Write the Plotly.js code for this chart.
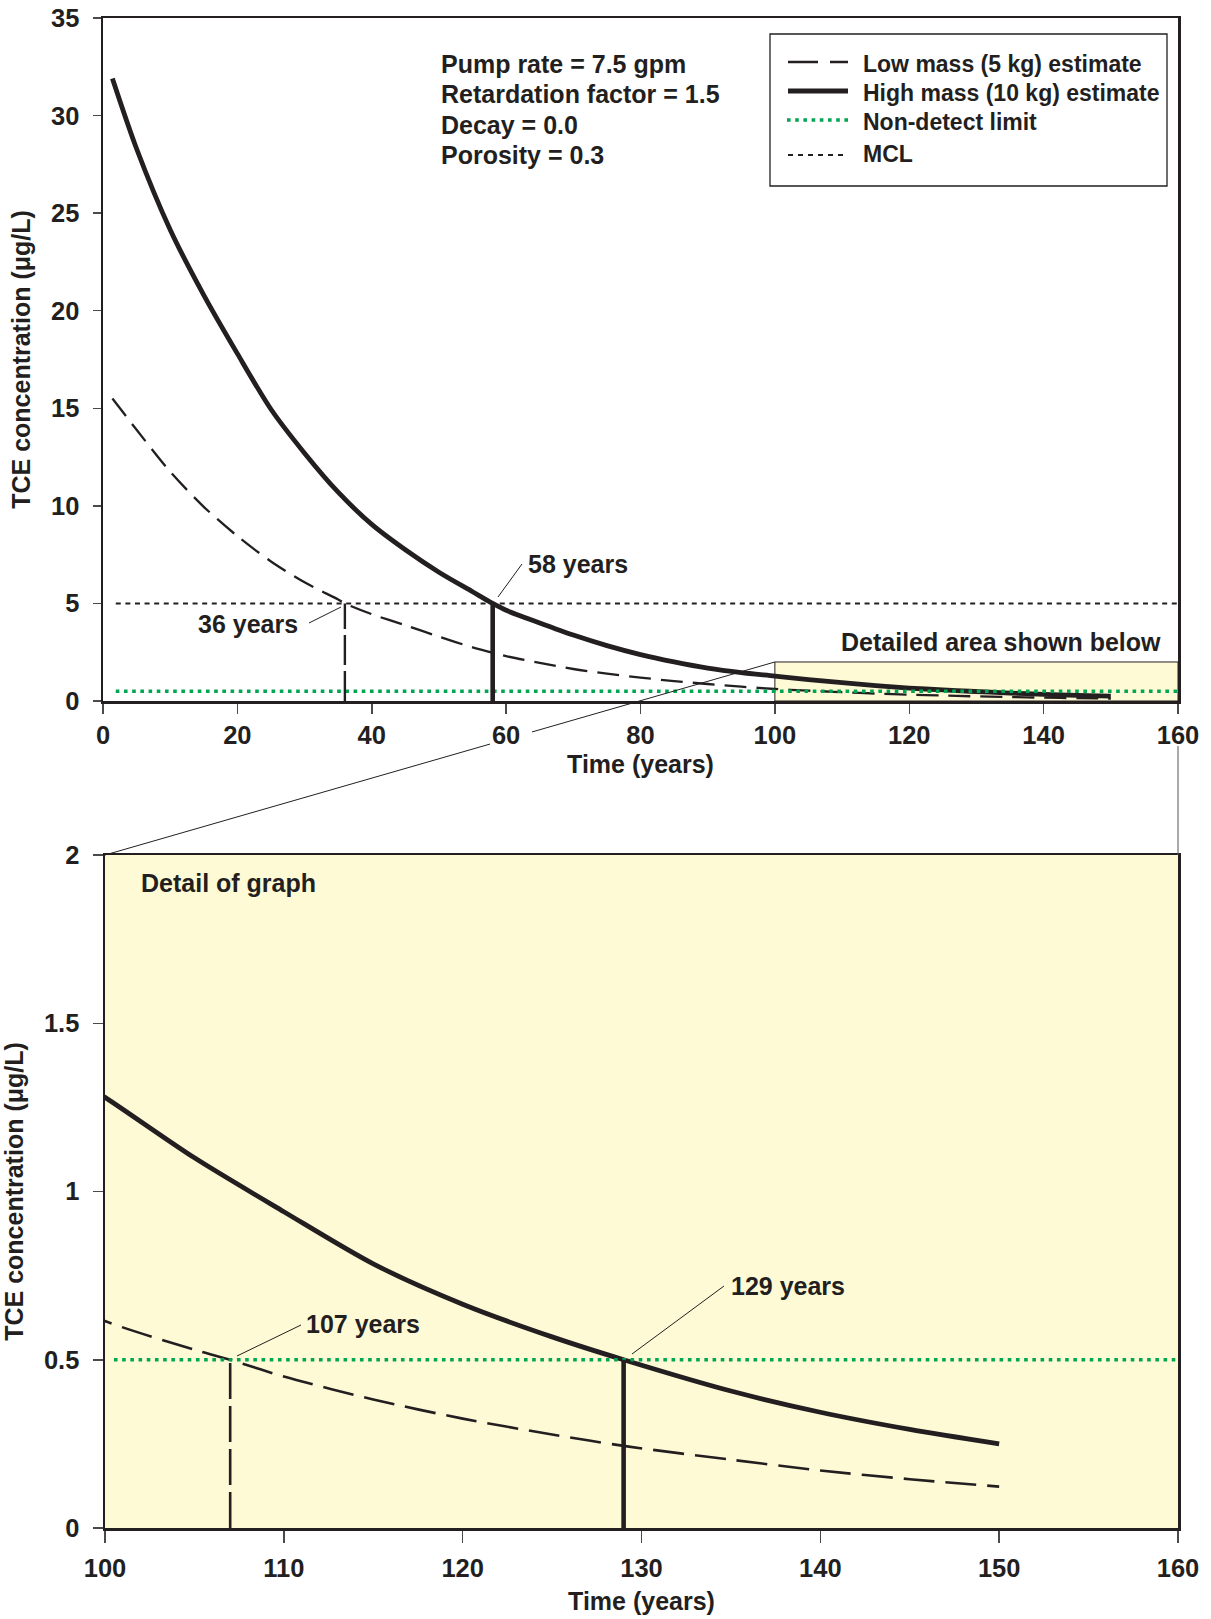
<!DOCTYPE html>
<html>
<head>
<meta charset="utf-8">
<script src="https://cdn.plot.ly/plotly-3.0.1.min.js"></script>
<style>
  html, body { margin: 0; padding: 0; background: #ffffff; }
  #chart { width: 1211px; height: 1619px; }
</style>
</head>
<body>
<div id="chart"></div>
<script>
// ---------------- data ----------------
const highTime = [1.4, 5, 10, 15, 20, 25, 30, 35, 40, 45, 50, 55, 58, 60, 65, 70, 75, 80, 85, 90, 95, 100, 105, 110, 115, 120, 125, 129, 135, 140, 145, 150];
const highConc = [31.9, 28.3, 24.15, 20.8, 17.8, 14.95, 12.7, 10.7, 9.05, 7.75, 6.6, 5.6, 5.0, 4.65, 4.0, 3.38, 2.84, 2.38, 2.0, 1.68, 1.45, 1.28, 1.10, 0.94, 0.785, 0.665, 0.568, 0.50, 0.407, 0.344, 0.293, 0.25];
const lowTime = [1.4, 5, 10, 15, 20, 25, 30, 35, 36, 40, 45, 50, 55, 60, 65, 70, 75, 80, 85, 90, 95, 100, 105, 107, 110, 115, 120, 125, 129, 135, 140, 145, 150];
const lowConc = [15.5, 13.9, 11.75, 9.95, 8.45, 7.15, 6.08, 5.2, 5.0, 4.45, 3.88, 3.3, 2.75, 2.3, 1.95, 1.64, 1.40, 1.20, 1.02, 0.87, 0.735, 0.615, 0.53, 0.50, 0.45, 0.382, 0.325, 0.278, 0.244, 0.203, 0.171, 0.145, 0.123];

const mclLevel = 5;            // MCL (ug/L)
const nonDetectLevel = 0.5;    // non-detect limit (ug/L)
const mclCrossYears = [36, 58];        // low, high reach MCL
const nonDetectCrossYears = [107, 129];// low, high reach non-detect
const topLineSpan = [1.9, 160];        // extent of reference lines, top graph
const bottomLineSpan = [100.5, 160];   // extent of reference line, detail graph
const detailBox = {x: [100, 160], y: [0, 2]};

const topXTicks = [0, 20, 40, 60, 80, 100, 120, 140, 160];
const topYTicks = [0, 5, 10, 15, 20, 25, 30, 35];
const botXTicks = [100, 110, 120, 130, 140, 150, 160];
const botYTicks = [0, 0.5, 1, 1.5, 2];
const botYTickText = ['0', '0.5', '1', '1.5', '2'];

const legendLabels = ['Low mass (5 kg) estimate', 'High mass (10 kg) estimate', 'Non-detect limit', 'MCL'];
const paramLines = ['Pump rate = 7.5 gpm', 'Retardation factor = 1.5', 'Decay = 0.0', 'Porosity = 0.3'];

// ---------------- styling ----------------
const INK = '#231F20';
const GREEN = '#00A651';
const YELLOW = '#FFFAD6';
const FAM = 'Liberation Sans, Arial, Helvetica, sans-serif';
const f = (size, color) => ({family: FAM, size: size, color: color || INK, weight: 'bold'});

const W = 1211, H = 1619;
const M = {l: 103, r: 33, t: 18, b: 91};
const pw = W - M.l - M.r, ph = H - M.t - M.b;
const px = (x) => (x - M.l) / pw;
const py = (y) => (H - M.b - y) / ph;

const topYDom = [py(701), 1];
const botYDom = [0, py(855)];
const botXDom = [px(105), 1];

const lowStyleTop = {color: INK, width: 2.3, dash: '22px,10px', shape: 'spline', smoothing: 0.8};
const lowStyleBot = {color: INK, width: 2.6, dash: '31px,11px', shape: 'spline', smoothing: 0.8};
const highStyle = {color: INK, width: 4.8, shape: 'spline', smoothing: 0.8};
const ndStyle = {color: GREEN, width: 3.6, dash: '3.6px,4.6px'};
const mclStyle = {color: INK, width: 2, dash: '5px,4.6px'};

const traces = [
  // top graph
  {x: topLineSpan, y: [mclLevel, mclLevel], xaxis: 'x', yaxis: 'y', mode: 'lines', line: mclStyle, name: 'MCL'},
  {x: lowTime, y: lowConc, xaxis: 'x', yaxis: 'y', mode: 'lines', line: lowStyleTop, name: legendLabels[0]},
  {x: highTime, y: highConc, xaxis: 'x', yaxis: 'y', mode: 'lines', line: highStyle, name: legendLabels[1]},
  {x: topLineSpan, y: [nonDetectLevel, nonDetectLevel], xaxis: 'x', yaxis: 'y', mode: 'lines', line: ndStyle, name: legendLabels[2]},
  {x: [mclCrossYears[0], mclCrossYears[0]], y: [0, mclLevel], xaxis: 'x', yaxis: 'y', mode: 'lines', line: {color: INK, width: 2.4, dash: '30px,6px'}},
  {x: [mclCrossYears[1], mclCrossYears[1]], y: [0, mclLevel], xaxis: 'x', yaxis: 'y', mode: 'lines', line: {color: INK, width: 4.6}},
  // detail graph
  {x: lowTime, y: lowConc, xaxis: 'x2', yaxis: 'y2', mode: 'lines', line: lowStyleBot, name: legendLabels[0]},
  {x: highTime, y: highConc, xaxis: 'x2', yaxis: 'y2', mode: 'lines', line: highStyle, name: legendLabels[1]},
  {x: bottomLineSpan, y: [nonDetectLevel, nonDetectLevel], xaxis: 'x2', yaxis: 'y2', mode: 'lines', line: ndStyle, name: legendLabels[2]},
  {x: [nonDetectCrossYears[0], nonDetectCrossYears[0]], y: [0, nonDetectLevel], xaxis: 'x2', yaxis: 'y2', mode: 'lines', line: {color: INK, width: 2.6, dash: '36px,7px'}},
  {x: [nonDetectCrossYears[1], nonDetectCrossYears[1]], y: [0, nonDetectLevel], xaxis: 'x2', yaxis: 'y2', mode: 'lines', line: {color: INK, width: 4.6}}
].map(t => Object.assign({showlegend: false, hoverinfo: 'skip'}, t));

const axisCommon = {
  showgrid: false, zeroline: false, showline: true, mirror: true,
  linecolor: INK, linewidth: 2.5, ticks: 'outside', tickcolor: '#4a4a4a', tickwidth: 1.5,
  tickfont: f(25.5), fixedrange: true
};

// paper position of the detail box corner in the top graph
const cornerX = px(M.l) + (detailBox.x[0] / 160) * 1;
const cornerY = topYDom[0] + (detailBox.y[1] / 35) * (topYDom[1] - topYDom[0]);
const botTL = {x: botXDom[0], y: botYDom[1]};
const slope = (botTL.y - cornerY) / (botTL.x - cornerX);
const gapA = px(532), gapB = px(490);

const shapes = [
  // yellow background of the detail graph
  {type: 'rect', xref: 'x2 domain', yref: 'y2 domain', x0: 0, x1: 1, y0: 0, y1: 1, fillcolor: YELLOW, line: {width: 0}, layer: 'below'},
  // detail area in top graph
  {type: 'rect', xref: 'x', yref: 'y', x0: detailBox.x[0], x1: detailBox.x[1], y0: detailBox.y[0], y1: detailBox.y[1], fillcolor: YELLOW, line: {color: INK, width: 1}, layer: 'below'},
  // connector lines
  {type: 'line', xref: 'paper', yref: 'paper', x0: cornerX, y0: cornerY, x1: gapA, y1: cornerY + slope * (gapA - cornerX), line: {color: INK, width: 1}},
  {type: 'line', xref: 'paper', yref: 'paper', x0: gapB, y0: cornerY + slope * (gapB - cornerX), x1: botTL.x, y1: botTL.y, line: {color: INK, width: 1}},
  {type: 'line', xref: 'paper', yref: 'paper', x0: 1, y0: py(746), x1: 1, y1: py(855), line: {color: '#555', width: 1}},
  // leader lines
  {type: 'line', xref: 'paper', yref: 'paper', x0: px(498), y0: py(597), x1: px(522), y1: py(564), line: {color: INK, width: 1}},
  {type: 'line', xref: 'paper', yref: 'paper', x0: px(309), y0: py(623), x1: px(341), y1: py(607), line: {color: INK, width: 1}},
  {type: 'line', xref: 'paper', yref: 'paper', x0: px(237), y0: py(1356), x1: px(301), y1: py(1325), line: {color: INK, width: 1}},
  {type: 'line', xref: 'paper', yref: 'paper', x0: px(632), y0: py(1354), x1: px(724), y1: py(1286), line: {color: INK, width: 1}},
  // legend box and samples
  {type: 'rect', xref: 'paper', yref: 'paper', x0: px(770), x1: px(1167), y0: py(186), y1: py(34), line: {color: INK, width: 1.3}, fillcolor: 'rgba(0,0,0,0)'},
  {type: 'line', xref: 'paper', yref: 'paper', x0: px(788), x1: px(848), y0: py(62), y1: py(62), line: {color: INK, width: 2.4, dash: '30px,12px'}},
  {type: 'line', xref: 'paper', yref: 'paper', x0: px(788), x1: px(848), y0: py(91), y1: py(91), line: {color: INK, width: 5}},
  {type: 'line', xref: 'paper', yref: 'paper', x0: px(787), x1: px(850), y0: py(120), y1: py(120), line: {color: GREEN, width: 3.6, dash: '3.6px,4.6px'}},
  {type: 'line', xref: 'paper', yref: 'paper', x0: px(788), x1: px(848), y0: py(155), y1: py(155), line: {color: INK, width: 2, dash: '5px,5px'}}
];

const ann = (text, x, y, xanchor, size) => ({
  text: text, xref: 'paper', yref: 'paper', x: px(x), y: py(y),
  xanchor: xanchor || 'left', yanchor: 'middle', showarrow: false, font: f(size || 25), borderpad: 0
});

const annotations = [
  ann(paramLines[0], 440, 64),
  ann(paramLines[1], 440, 94),
  ann(paramLines[2], 440, 125),
  ann(paramLines[3], 440, 155),
  ann(legendLabels[0], 862, 64, 'left', 23),
  ann(legendLabels[1], 862, 93, 'left', 23),
  ann(legendLabels[2], 862, 122, 'left', 23),
  ann(legendLabels[3], 862, 154, 'left', 23),
  ann('58 years', 527, 564),
  ann('36 years', 299, 624, 'right'),
  ann('Detailed area shown below', 1162, 642, 'right'),
  ann('Detail of graph', 140, 883),
  ann('107 years', 305, 1324),
  ann('129 years', 730, 1286)
];

const layout = {
  width: W, height: H,
  margin: M,
  paper_bgcolor: '#ffffff', plot_bgcolor: 'rgba(0,0,0,0)',
  showlegend: false,
  font: f(24),
  xaxis: Object.assign({}, axisCommon, {
    domain: [0, 1], anchor: 'y', range: [0, 160], tickvals: topXTicks, ticklen: 10,
    ticklabelstandoff: 0,
    title: {text: 'Time (years)', font: f(25), standoff: 8}
  }),
  yaxis: Object.assign({}, axisCommon, {
    domain: topYDom, anchor: 'x', range: [0, 35], tickvals: topYTicks, ticklen: 8,
    ticklabelstandoff: 8,
    title: {text: 'TCE concentration (μg/L)', font: f(25), standoff: 14}
  }),
  xaxis2: Object.assign({}, axisCommon, {
    domain: botXDom, anchor: 'y2', range: [100, 160], tickvals: botXTicks, ticklen: 12,
    ticklabelstandoff: 4,
    title: {text: 'Time (years)', font: f(25), standoff: 12}
  }),
  yaxis2: Object.assign({}, axisCommon, {
    domain: botYDom, anchor: 'x2', range: [0, 2], tickvals: botYTicks, ticktext: botYTickText, ticklen: 10,
    ticklabelstandoff: 8,
    title: {text: 'TCE concentration (μg/L)', font: f(25), standoff: 14}
  }),
  shapes: shapes,
  annotations: annotations
};

Plotly.newPlot('chart', traces, layout, {displayModeBar: false, staticPlot: true});
</script>
</body>
</html>
